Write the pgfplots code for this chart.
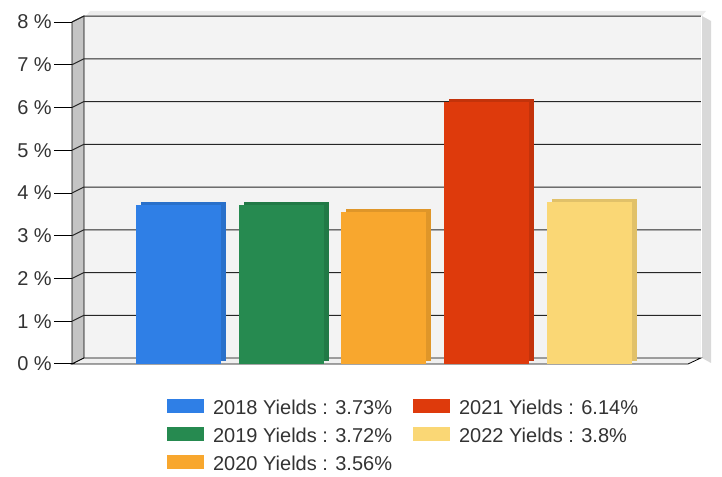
\documentclass[border=0pt]{standalone}
\usepackage{fontspec}
\setmainfont{Liberation Sans}
\usepackage{pgfplots}
\pgfplotsset{compat=1.18}

\definecolor{c18}{HTML}{2F7FE6}
\definecolor{c19}{HTML}{268A50}
\definecolor{c20}{HTML}{F8A72E}
\definecolor{c21}{HTML}{DE3A0C}
\definecolor{c22}{HTML}{FAD775}
\definecolor{wallgray}{HTML}{C4C4C4}
\definecolor{backwall}{HTML}{F3F3F3}
\definecolor{txt}{HTML}{333333}

\begin{document}
\begin{tikzpicture}
\useasboundingbox (0,0) rectangle (722pt,476pt);
% shadow strips right and top of the box
\fill[gray!30] (702pt,118pt) -- (702pt,460pt) -- (711pt,455pt) -- (711pt,113pt) -- cycle;
\fill[gray!15] (86pt,460pt) -- (702pt,460pt) -- (706pt,465pt) -- (90pt,465pt) -- cycle;
\begin{axis}[
  at={(72pt,112pt)}, anchor=south west,
  scale only axis, width=616pt, height=342pt,
  xmin=-1.061, xmax=4.935, ymin=0, ymax=8,
  clip=false,
  axis lines*=left,
  axis line style={black, line width=1pt},
  xtick=\empty,
  ytick={0,1,...,8},
  yticklabel={\pgfmathprintnumber{\tick} \%},
  tick align=outside,
  major tick length=18pt,
  ytick style={black, line width=1pt},
  yticklabel style={font=\fontsize{20}{22}\selectfont, text=txt, inner sep=2pt},
  /pgf/number format/assume math mode=true,
  ybar, bar width=85pt, bar shift=-2.5pt,
  legend columns=2,
  legend style={
    at={(0.154,-0.101)}, anchor=north west,
    draw=none, fill=none, inner sep=0pt,
    font=\fontsize{20}{22}\selectfont,
    text=txt,
    nodes={inner sep=0pt},
    row sep=11pt,
    /tikz/every even column/.append style={column sep=21pt},
  },
  legend image code/.code={\fill[#1,draw=none] (0pt,-5.4pt) rectangle (37pt,9.1pt); \path (46pt,0pt);},
  legend cell align=left,
]
% back wall, side wall and floor (3-D look)
\fill[backwall] (axis cs:-0.944,0.14) rectangle (axis cs:5.06,8.14);
\fill[wallgray, draw=black, line width=0.8pt] (axis cs:-1.061,0) -- (axis cs:-1.061,8) -- (axis cs:-0.944,8.14) -- (axis cs:-0.944,0.14) -- cycle;
\fill[gray!12, draw=black, line width=0.8pt] (axis cs:-1.061,0) -- (axis cs:4.935,0) -- (axis cs:5.06,0.14) -- (axis cs:-0.944,0.14) -- cycle;
\pgfplotsinvokeforeach{1,...,8}{
  \draw[black!85, line width=1pt] (axis cs:-1.061,#1) -- (axis cs:-0.944,#1+0.14) -- (axis cs:5.06,#1+0.14);
}
% depth faces of the bars
\addplot[fill=c18!88!black, draw=none, bar shift=2.5pt, yshift=3pt, forget plot] coordinates {(0,3.73)};
\addplot[fill=c19!88!black, draw=none, bar shift=2.5pt, yshift=3pt, forget plot] coordinates {(1,3.72)};
\addplot[fill=c20!90!black, draw=none, bar shift=2.5pt, yshift=3pt, forget plot] coordinates {(2,3.56)};
\addplot[fill=c21!88!black, draw=none, bar shift=2.5pt, yshift=3pt, forget plot] coordinates {(3,6.14)};
\addplot[fill=c22!90!black, draw=none, bar shift=2.5pt, yshift=3pt, forget plot] coordinates {(4,3.80)};
% front faces
\addplot[fill=c18, draw=none] coordinates {(0,3.73)};
\addlegendentry{2018 Yields : 3.73\%}
\addplot[fill=c21, draw=none] coordinates {(3,6.14)};
\addlegendentry{2021 Yields : 6.14\%}
\addplot[fill=c19, draw=none] coordinates {(1,3.72)};
\addlegendentry{2019 Yields : 3.72\%}
\addplot[fill=c22, draw=none] coordinates {(4,3.80)};
\addlegendentry{2022 Yields : 3.8\%}
\addplot[fill=c20, draw=none] coordinates {(2,3.56)};
\addlegendentry{2020 Yields : 3.56\%}
\end{axis}
\end{tikzpicture}
\end{document}
